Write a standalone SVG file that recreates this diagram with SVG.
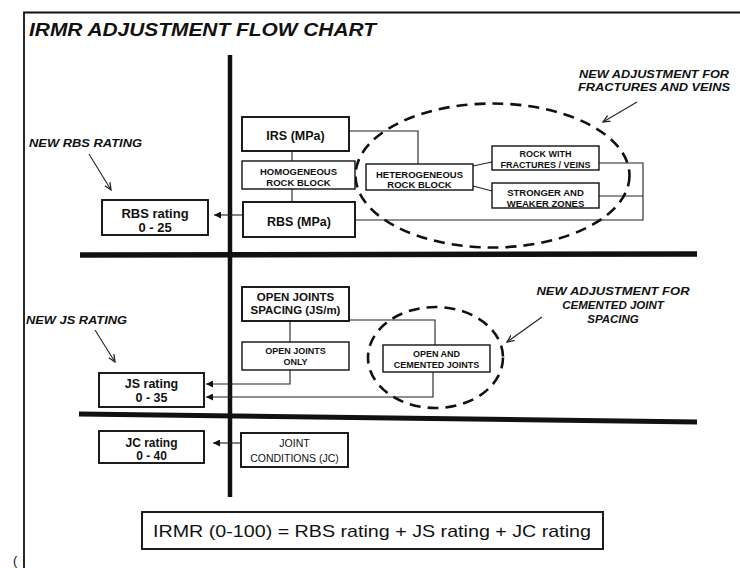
<svg xmlns="http://www.w3.org/2000/svg" width="740" height="568" viewBox="0 0 740 568">
<defs>
<style>
text{font-family:"Liberation Sans",Arial,sans-serif;fill:#111;text-anchor:middle}
.b{font-weight:bold}
.bi{font-weight:bold;font-style:italic}
.box{fill:#fff;stroke:#111;stroke-width:1.9}
.sbox{fill:#fff;stroke:#111;stroke-width:1.4}
.ln{fill:none;stroke:#222;stroke-width:1.1}
.thick{stroke:#111;fill:none}
.dash{fill:none;stroke:#111;stroke-width:2.6;stroke-dasharray:11 7}
.ann{fill:none;stroke:#222;stroke-width:1.1}
</style>
<marker id="ah" viewBox="0 0 10 10" refX="10" refY="5" markerWidth="11" markerHeight="7" markerUnits="userSpaceOnUse" orient="auto">
<path d="M0,0 L10,5 L0,10 z" fill="#111"/>
</marker>
<marker id="oah" viewBox="0 0 10 10" refX="9" refY="5" markerWidth="8" markerHeight="8" markerUnits="userSpaceOnUse" orient="auto">
<path d="M0,1 L9,5 L0,9" fill="none" stroke="#222" stroke-width="1.6"/>
</marker>
</defs>
<rect width="740" height="568" fill="#fff"/>

<g id="frame">
<path d="M24,568 V12.5 H740" fill="none" stroke="#111" stroke-width="1.8"/>
<text x="13" y="565" style="font-size:13px;text-anchor:start">(</text>
</g>

<g id="title">
<text x="29" y="36" class="bi" style="font-size:19px;text-anchor:start" textLength="347" lengthAdjust="spacingAndGlyphs">IRMR ADJUSTMENT FLOW CHART</text>
</g>

<g id="dividers">
<line class="thick" x1="230" y1="55" x2="230" y2="497" stroke-width="4.5"/>
<line class="thick" x1="80" y1="255" x2="697" y2="254" stroke-width="5.5"/>
<line class="thick" x1="79" y1="414" x2="697" y2="422" stroke-width="5"/>
</g>

<g id="connectors">
<path class="ln" d="M292,151 V161 M292,189 V202"/>
<path class="ln" d="M349,131 H418 V164"/>
<path class="ln" d="M473,166 L492,162"/>
<path class="ln" d="M473,186 L492,191"/>
<path class="ln" d="M599,163 H643 V220 H355 M599,196 H643"/>
<path class="ln" d="M243,215 H214" marker-end="url(#ah)"/>
<path class="ln" d="M290,321 V342"/>
<path class="ln" d="M349,320 H435 V345"/>
<path class="ln" d="M290,370 V384 H206" marker-end="url(#ah)"/>
<path class="ln" d="M433,372 V397 H206" marker-end="url(#ah)"/>
<path class="ln" d="M241,443 H213" marker-end="url(#ah)"/>
<path class="ann" d="M89,154 L111,190" marker-end="url(#oah)"/>
<path class="ann" d="M95,330 L115,362" marker-end="url(#oah)"/>
<path class="ann" d="M637,102 L603,122" marker-end="url(#oah)"/>
<path class="ann" d="M542,317 L507,342" marker-end="url(#oah)"/>
</g>

<g id="ellipse-fractures"><ellipse class="dash" cx="492.5" cy="175.5" rx="137" ry="72"/></g>
<g id="ellipse-cemented"><ellipse class="dash" cx="435.5" cy="357.5" rx="67.5" ry="50.5"/></g>

<g id="irs">
<rect class="box" x="242" y="117" width="107" height="34"/>
<text x="295.5" y="139.5" class="b" style="font-size:12.5px">IRS (MPa)</text>
</g>
<g id="homogeneous">
<rect class="sbox" x="242" y="161" width="113" height="28"/>
<text x="298.5" y="174.5" class="b" style="font-size:9.5px">HOMOGENEOUS</text>
<text x="298.5" y="185.5" class="b" style="font-size:9.5px">ROCK BLOCK</text>
</g>
<g id="rbs-mpa">
<rect class="box" x="243" y="202" width="112" height="35"/>
<text x="299" y="225.5" class="b" style="font-size:12.5px">RBS (MPa)</text>
</g>
<g id="rbs-rating">
<rect class="box" x="102" y="200" width="106" height="35"/>
<text x="155" y="217.5" class="b" style="font-size:13px">RBS rating</text>
<text x="155" y="231.5" class="b" style="font-size:13px">0 - 25</text>
</g>
<g id="new-rbs-label">
<text x="29" y="147" class="bi" style="font-size:11.5px;text-anchor:start" textLength="113" lengthAdjust="spacingAndGlyphs">NEW RBS RATING</text>
</g>
<g id="heterogeneous">
<rect class="sbox" x="366" y="164" width="107" height="26"/>
<text x="419.5" y="177.5" class="b" style="font-size:9.5px">HETEROGENEOUS</text>
<text x="419.5" y="187.5" class="b" style="font-size:9.5px">ROCK BLOCK</text>
</g>
<g id="fractures">
<rect class="sbox" x="492" y="146" width="107" height="24"/>
<text x="545.5" y="157" class="b" style="font-size:9px">ROCK WITH</text>
<text x="545.5" y="168" class="b" style="font-size:9px">FRACTURES / VEINS</text>
</g>
<g id="zones">
<rect class="sbox" x="492" y="183" width="107" height="25"/>
<text x="545.5" y="195.5" class="b" style="font-size:9.5px">STRONGER AND</text>
<text x="545.5" y="206.5" class="b" style="font-size:9.5px">WEAKER ZONES</text>
</g>
<g id="note-fractures">
<text x="654" y="78" class="bi" style="font-size:11.5px" textLength="150" lengthAdjust="spacingAndGlyphs">NEW ADJUSTMENT FOR</text>
<text x="654" y="91" class="bi" style="font-size:11.5px" textLength="152" lengthAdjust="spacingAndGlyphs">FRACTURES AND VEINS</text>
</g>

<g id="open-joint-spacing">
<rect class="box" x="242" y="287" width="107" height="34"/>
<text x="295.5" y="301" class="b" style="font-size:11.5px">OPEN JOINTS</text>
<text x="295.5" y="314" class="b" style="font-size:11.5px">SPACING (JS/m)</text>
</g>
<g id="open-joints-only">
<rect class="sbox" x="242" y="342" width="107" height="28"/>
<text x="295.5" y="354" class="b" style="font-size:9px">OPEN JOINTS</text>
<text x="295.5" y="364.5" class="b" style="font-size:9px">ONLY</text>
</g>
<g id="js-rating">
<rect class="box" x="99" y="373" width="105" height="34"/>
<text x="151.5" y="388" class="b" style="font-size:12.5px">JS rating</text>
<text x="151.5" y="402" class="b" style="font-size:12.5px">0 - 35</text>
</g>
<g id="new-js-label">
<text x="26" y="324" class="bi" style="font-size:11.5px;text-anchor:start" textLength="101" lengthAdjust="spacingAndGlyphs">NEW JS RATING</text>
</g>
<g id="cemented">
<rect class="sbox" x="383" y="345" width="107" height="27"/>
<text x="436.5" y="357" class="b" style="font-size:9px">OPEN AND</text>
<text x="436.5" y="367.5" class="b" style="font-size:9px">CEMENTED JOINTS</text>
</g>
<g id="note-cemented">
<text x="613" y="295" class="bi" style="font-size:11.5px" textLength="153" lengthAdjust="spacingAndGlyphs">NEW ADJUSTMENT FOR</text>
<text x="613" y="308.5" class="bi" style="font-size:11.5px">CEMENTED JOINT</text>
<text x="613" y="323" class="bi" style="font-size:11.5px">SPACING</text>
</g>

<g id="jc-rating">
<rect class="box" x="99" y="431" width="105" height="32"/>
<text x="151.5" y="446.5" class="b" style="font-size:12px">JC rating</text>
<text x="151.5" y="460" class="b" style="font-size:12px">0 - 40</text>
</g>
<g id="joint-conditions">
<rect class="box" x="241" y="433" width="107" height="34"/>
<text x="294.5" y="447" style="font-size:10.5px">JOINT</text>
<text x="294.5" y="462" style="font-size:10.5px">CONDITIONS (JC)</text>
</g>

<g id="formula">
<rect class="box" x="142" y="512" width="461" height="37"/>
<text x="372" y="537" style="font-size:17px" textLength="438" lengthAdjust="spacingAndGlyphs">IRMR (0-100) = RBS rating + JS rating + JC rating</text>
</g>
</svg>
